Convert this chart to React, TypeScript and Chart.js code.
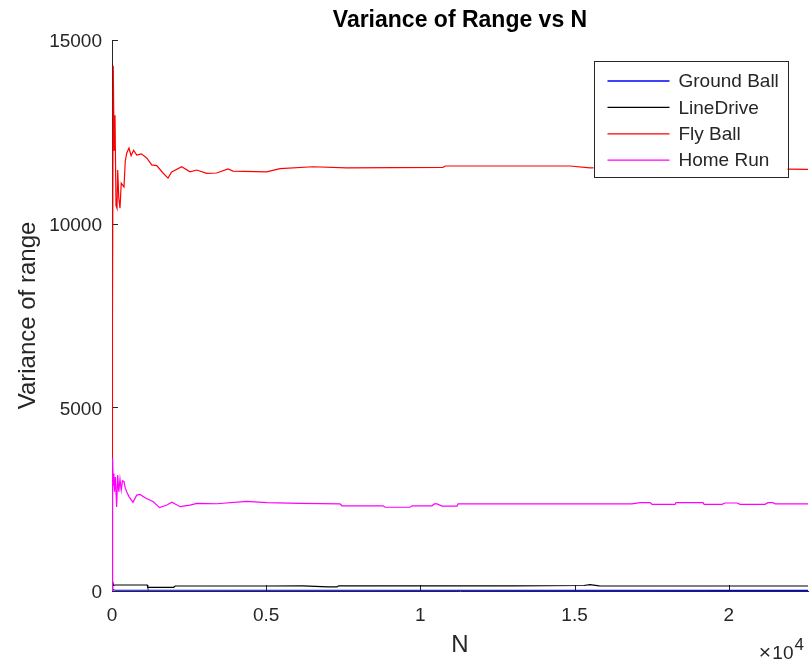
import { useEffect, useRef } from "react";
import { Chart, registerables } from "chart.js";

Chart.register(...registerables);

const FONT = "'Liberation Sans', Arial, Helvetica, sans-serif";
const AXIS = "#262626";
const TEXT = "#262626";

const titleText = "Variance of Range vs N";
const xTitle = "N";
const yTitle = "Variance of range";
const exponentBase = "\u00d710";
const exponentPower = "4";

const seriesLabels = ["Ground Ball", "LineDrive", "Fly Ball", "Home Run"];
const seriesColors = ["#0000ff", "#000000", "#ff0000", "#ff00ff"];

const xTickValues = [0, 5000, 10000, 15000, 20000];
const xTickLabels = ["0", "0.5", "1", "1.5", "2"];
const yTickValues = [0, 5000, 10000, 15000];
const yTickLabels = ["0", "5000", "10000", "15000"];
const xMax = 22570;

// Ground Ball
const groundN = [1, 5, 100, 22570];
const groundVar = [0, 40, 20, 18];

// LineDrive
const lineN = [1, 20, 50, 100, 1140, 1160, 2000, 2050, 5000, 6200, 7000, 7300, 7350, 13000, 15300, 15500, 15800, 22570];
const lineVar = [0, 250, 150, 163, 163, 100, 100, 136, 136, 140, 110, 110, 140, 140, 150, 175, 140, 136];

// Fly Ball
const flyN = [1, 15, 40, 70, 97, 130, 162, 185, 220, 259, 300, 389, 430, 477, 551, 620, 700, 801, 950, 1125, 1287, 1450, 1654, 1816, 1936, 2260, 2530, 2747, 3071, 3395, 3762, 3924, 5017, 5448, 6518, 7612, 10735, 10800, 14853, 15500, 16475, 22570];
const flyVar = [0, 7300, 14300, 12000, 12950, 10500, 10420, 11460, 10700, 10420, 11100, 11000, 11700, 11920, 12060, 11850, 12000, 11870, 11900, 11790, 11600, 11580, 11380, 11240, 11410, 11550, 11410, 11460, 11370, 11380, 11490, 11430, 11410, 11500, 11550, 11520, 11530, 11570, 11570, 11520, 11540, 11480];

// Home Run
const homeN = [1, 10, 25, 40, 60, 80, 110, 150, 185, 220, 259, 300, 340, 389, 430, 477, 551, 680, 801, 910, 1070, 1340, 1540, 1780, 1940, 2210, 2530, 2750, 3400, 4370, 5020, 6100, 7394, 7459, 8789, 8854, 9664, 9729, 10378, 10450, 10540, 10702, 11188, 11221, 16864, 17123, 17448, 17513, 18259, 18292, 19167, 19200, 19783, 19880, 20270, 20367, 21177, 21274, 21437, 21502, 22570];
const homeVar = [0, 300, 3620, 2880, 3200, 2700, 3100, 2290, 3160, 2700, 3050, 2750, 3000, 2975, 2800, 2700, 2570, 2415, 2610, 2630, 2540, 2430, 2270, 2340, 2415, 2295, 2340, 2385, 2375, 2440, 2405, 2385, 2370, 2320, 2320, 2280, 2280, 2320, 2320, 2370, 2370, 2310, 2310, 2370, 2370, 2405, 2405, 2360, 2360, 2405, 2405, 2360, 2360, 2395, 2395, 2360, 2360, 2405, 2405, 2370, 2370];

const seriesN = [groundN, lineN, flyN, homeN];
const seriesVar = [groundVar, lineVar, flyVar, homeVar];

const decorPlugin = {
  id: "decor",
  beforeDatasetsDraw(chart: any) {
    const { ctx, chartArea: ca, scales } = chart;
    const x = scales.x;
    const y = scales.y;
    ctx.save();
    ctx.strokeStyle = AXIS;
    ctx.lineWidth = 1;
    ctx.beginPath();
    for (const v of yTickValues) {
      const py = Math.round(y.getPixelForValue(v)) + 0.5;
      ctx.moveTo(ca.left, py);
      ctx.lineTo(ca.left + 6, py);
    }
    for (const v of xTickValues) {
      const px = Math.round(x.getPixelForValue(v)) + 0.5;
      ctx.moveTo(px, ca.bottom);
      ctx.lineTo(px, ca.bottom - 6);
    }
    ctx.stroke();
    ctx.restore();
  },
  afterDraw(chart: any) {
    const { ctx, chartArea: ca } = chart;
    ctx.save();
    // legend
    const boxRight = ca.right - 20.5;
    const boxTop = ca.top + 20.5;
    const boxW = 194;
    const boxH = 116;
    const boxLeft = boxRight - boxW;
    ctx.fillStyle = "#ffffff";
    ctx.fillRect(boxLeft, boxTop, boxW, boxH);
    ctx.strokeStyle = AXIS;
    ctx.lineWidth = 1;
    ctx.strokeRect(Math.round(boxLeft) + 0.5, Math.round(boxTop) + 0.5, boxW, boxH);
    ctx.font = `19px ${FONT}`;
    ctx.textBaseline = "middle";
    ctx.textAlign = "left";
    chart.data.datasets.forEach((ds: any, i: number) => {
      const ry = boxTop + 20.5 + i * 26.4;
      ctx.strokeStyle = ds.borderColor;
      ctx.lineWidth = 1.3;
      ctx.beginPath();
      ctx.moveTo(boxLeft + 14, ry);
      ctx.lineTo(boxLeft + 76, ry);
      ctx.stroke();
      ctx.fillStyle = TEXT;
      ctx.fillText(ds.label, boxLeft + 85, ry + 1);
    });
    // exponent
    ctx.fillStyle = TEXT;
    ctx.textBaseline = "alphabetic";
    ctx.textAlign = "right";
    ctx.font = `19px ${FONT}`;
    ctx.fillText("10", ca.right - 14.5, 658.5);
    ctx.font = `21px ${FONT}`;
    ctx.fillText("\u00d7", ca.right - 37, 658.5);
    ctx.textAlign = "left";
    ctx.font = `17px ${FONT}`;
    ctx.fillText(exponentPower, ca.right - 13.5, 649.5);
    ctx.restore();
  },
};

export default function App() {
  const ref = useRef<HTMLCanvasElement | null>(null);
  useEffect(() => {
    if (!ref.current) return;
    const datasets = seriesLabels.map((label, i) => ({
      label,
      data: seriesN[i].map((n, j) => ({ x: n, y: seriesVar[i][j] })),
      borderColor: seriesColors[i],
      backgroundColor: seriesColors[i],
      borderWidth: 1.2,
      pointRadius: 0,
      tension: 0,
      fill: false,
      order: 3 - i,
    }));
    const chart = new Chart(ref.current, {
      type: "line",
      data: { datasets },
      plugins: [decorPlugin],
      options: {
        animation: false,
        responsive: true,
        maintainAspectRatio: false,
        layout: { padding: { left: 0, right: 1, top: 0, bottom: 0 } },
        plugins: {
          legend: { display: false },
          tooltip: { enabled: false },
          title: {
            display: true,
            text: titleText,
            fullSize: false,
            color: "#000",
            font: { family: FONT, size: 23, weight: "bold", lineHeight: 1.2 },
            padding: { top: 7, bottom: 5.4 },
          },
        },
        scales: {
          x: {
            type: "linear",
            min: 0,
            max: xMax,
            grid: { display: false, drawTicks: false },
            border: { display: true, color: AXIS, width: 1 },
            afterFit: (s: any) => {
              s.height = 75;
            },
            afterBuildTicks: (s: any) => {
              s.ticks = xTickValues.map((v) => ({ value: v }));
            },
            ticks: {
              color: TEXT,
              font: { family: FONT, size: 19 },
              padding: 13,
              maxRotation: 0,
              autoSkip: false,
              callback: (v: any) => xTickLabels[xTickValues.indexOf(Number(v))] ?? "",
            },
            title: {
              display: true,
              text: xTitle,
              color: TEXT,
              font: { family: FONT, size: 24, lineHeight: 1.2 },
              padding: { top: 0, bottom: 6.6 },
            },
          },
          y: {
            type: "linear",
            min: 0,
            max: 15000,
            grid: { display: false, drawTicks: false },
            border: { display: true, color: AXIS, width: 1 },
            afterFit: (s: any) => {
              s.width = 112;
            },
            afterBuildTicks: (s: any) => {
              s.ticks = yTickValues.map((v) => ({ value: v }));
            },
            ticks: {
              color: TEXT,
              font: { family: FONT, size: 19 },
              padding: 10,
              labelOffset: 2,
              autoSkip: false,
              callback: (v: any) => yTickLabels[yTickValues.indexOf(Number(v))] ?? "",
            },
            title: {
              display: true,
              text: yTitle,
              color: TEXT,
              font: { family: FONT, size: 24, lineHeight: 1.2 },
              padding: { top: 13.6, bottom: 0 },
            },
          },
        },
      },
    });
    return () => chart.destroy();
  }, []);
  return (
    <div style={{ position: "fixed", left: 0, top: 0, width: 809, height: 666, background: "#fff" }}>
      <canvas ref={ref} />
    </div>
  );
}
